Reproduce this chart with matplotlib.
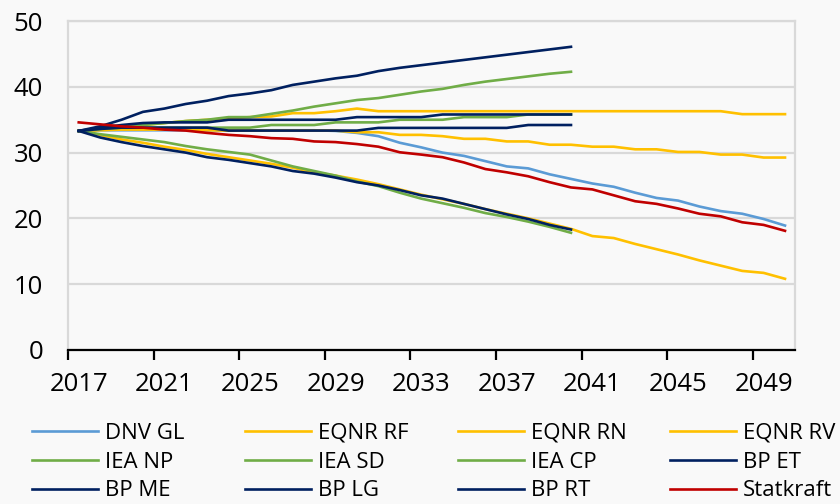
import matplotlib.pyplot as plt
from matplotlib.ticker import FixedLocator

plt.rcParams['font.family'] = ['Open Sans', 'DejaVu Sans']

# 1. Data
years_long = list(range(2017, 2051))   # DNV GL, EQNR, Statkraft
years_short = list(range(2017, 2041))  # IEA and BP

dnv_gl = [33.3, 33.4, 33.4, 33.4, 33.4, 33.4, 33.4, 33.4, 33.4, 33.4, 33.4, 33.4,
          33.3, 33.0, 32.5, 31.5, 30.8, 30.0, 29.5, 28.7, 27.9, 27.6, 26.7, 26.0,
          25.3, 24.8, 23.9, 23.1, 22.7, 21.8, 21.1, 20.7, 19.9, 18.9]
eqnr_rf = [33.3, 33.4, 33.5, 33.5, 33.5, 33.5, 33.4, 33.35, 33.35, 33.35, 33.35, 33.35,
           33.35, 33.1, 33.1, 32.7, 32.7, 32.5, 32.1, 32.1, 31.7, 31.7, 31.2, 31.2,
           30.9, 30.9, 30.5, 30.5, 30.1, 30.1, 29.7, 29.7, 29.25, 29.25]
eqnr_rn = [33.3, 32.7, 32.0, 31.5, 30.9, 30.4, 29.8, 29.3, 28.8, 28.3, 27.7, 27.0,
           26.5, 25.9, 25.2, 24.4, 23.6, 22.9, 22.2, 21.4, 20.7, 20.0, 19.2, 18.4,
           17.3, 17.0, 16.1, 15.3, 14.5, 13.6, 12.8, 12.0, 11.7, 10.8]
eqnr_rv = [33.3, 33.6, 33.9, 34.2, 34.5, 34.8, 35.0, 35.2, 35.4, 35.5, 36.0, 36.0,
           36.3, 36.7, 36.3, 36.3, 36.3, 36.3, 36.3, 36.3, 36.3, 36.3, 36.3, 36.3,
           36.3, 36.3, 36.3, 36.3, 36.3, 36.3, 36.3, 35.85, 35.85, 35.85]
iea_np = [33.3, 33.6, 33.8, 33.8, 33.8, 33.8, 33.8, 33.8, 33.8, 34.2, 34.2, 34.2,
          34.6, 34.6, 34.6, 35.0, 35.0, 35.0, 35.4, 35.4, 35.4, 35.8, 35.8, 35.8]
iea_sd = [33.3, 32.8, 32.4, 32.0, 31.6, 31.0, 30.5, 30.1, 29.7, 28.8, 27.9, 27.2,
          26.5, 25.6, 24.9, 23.9, 23.0, 22.3, 21.6, 20.8, 20.2, 19.5, 18.7, 17.8]
iea_cp = [33.3, 33.6, 33.9, 34.2, 34.5, 34.8, 35.0, 35.4, 35.4, 35.9, 36.4, 37.0,
          37.5, 38.0, 38.3, 38.8, 39.3, 39.7, 40.3, 40.8, 41.2, 41.6, 42.0, 42.3]
bp_et = [33.3, 33.8, 34.2, 34.5, 34.6, 34.6, 34.6, 35.0, 35.0, 35.0, 35.0, 35.0,
         35.0, 35.4, 35.4, 35.4, 35.4, 35.8, 35.8, 35.8, 35.8, 35.8, 35.8, 35.8]
bp_me = [33.3, 34.0, 35.0, 36.2, 36.7, 37.4, 37.9, 38.6, 39.0, 39.5, 40.3, 40.8,
         41.3, 41.7, 42.4, 42.9, 43.3, 43.7, 44.1, 44.5, 44.9, 45.3, 45.7, 46.1]
bp_lg = [33.3, 33.6, 33.8, 33.8, 33.8, 33.8, 33.8, 33.35, 33.35, 33.35, 33.35, 33.35,
         33.35, 33.35, 33.76, 33.76, 33.76, 33.76, 33.76, 33.76, 33.76, 34.2, 34.2, 34.2]
bp_rt = [33.3, 32.3, 31.6, 31.0, 30.5, 30.0, 29.3, 28.9, 28.4, 27.9, 27.2, 26.8,
         26.2, 25.5, 25.0, 24.3, 23.5, 23.0, 22.2, 21.4, 20.6, 19.9, 19.0, 18.3]
statkraft = [34.6, 34.3, 34.0, 33.8, 33.5, 33.35, 33.0, 32.7, 32.5, 32.2, 32.1, 31.7,
             31.6, 31.3, 30.9, 30.05, 29.7, 29.3, 28.5, 27.5, 27.0, 26.4, 25.5, 24.7,
             24.4, 23.5, 22.6, 22.2, 21.5, 20.7, 20.3, 19.4, 19.0, 18.1]

labels_x = [str(y) for y in range(2017, 2050, 4)]

# 2. Series: (name, x, y, colour) in drawing order
blue, yellow, green, navy, red = '#5B9BD5', '#FFC000', '#70AD47', '#002060', '#C00000'
series = [
    ('DNV GL', years_long, dnv_gl, blue),
    ('EQNR RF', years_long, eqnr_rf, yellow),
    ('EQNR RN', years_long, eqnr_rn, yellow),
    ('EQNR RV', years_long, eqnr_rv, yellow),
    ('IEA NP', years_short, iea_np, green),
    ('IEA SD', years_short, iea_sd, green),
    ('IEA CP', years_short, iea_cp, green),
    ('BP ET', years_short, bp_et, navy),
    ('BP ME', years_short, bp_me, navy),
    ('BP LG', years_short, bp_lg, navy),
    ('BP RT', years_short, bp_rt, navy),
    ('Statkraft', years_long, statkraft, red),
]

bg = '#F9F9F9'
fig = plt.figure(figsize=(8.4, 5.04), dpi=100, facecolor=bg)
ax = fig.add_axes([0.081, 0.306, 0.865, 0.652], facecolor=bg)

handles = []
for name, x, y, c in series:
    line, = ax.plot(x, y, color=c, lw=1.9, label=name, solid_joinstyle='round')
    handles.append(line)

# 3. Axes styling
ax.set_xlim(2016.5, 2050.45)
ax.set_ylim(0, 50)
ax.set_yticks(range(0, 51, 10))
ax.grid(axis='y', color='#D9D9D9', lw=1.6)
ax.set_axisbelow(True)

ax.set_xticks(range(2017, 2050, 4))
ax.set_xticklabels(labels_x)
ax.xaxis.set_minor_locator(FixedLocator([2016.5 + 4 * i for i in range(9)]))
ax.tick_params(axis='x', which='major', length=0, pad=16, labelsize=18.5)
ax.tick_params(axis='x', which='minor', length=7, width=1.6, color='black', direction='out')
ax.tick_params(axis='y', length=0, pad=18, labelsize=18.5)

for side in ['left', 'right', 'top']:
    ax.spines[side].set_color('#D9D9D9')
    ax.spines[side].set_linewidth(1.6)
ax.spines['bottom'].set_color('black')
ax.spines['bottom'].set_linewidth(1.6)

# 4. Legend: four equal-width columns, three rows (row-major order)
col_x = [0.038, 0.2917, 0.545, 0.7976]
for c in range(4):
    col_handles = [handles[r * 4 + c] for r in range(3)]
    fig.legend(handles=col_handles, loc='upper left', bbox_to_anchor=(col_x[c], 0.161),
               frameon=False, fontsize=16, handlelength=2.97, handletextpad=0.32,
               labelspacing=0.35, borderaxespad=0, borderpad=0)

plt.savefig('out.png', dpi=100, facecolor=bg)
